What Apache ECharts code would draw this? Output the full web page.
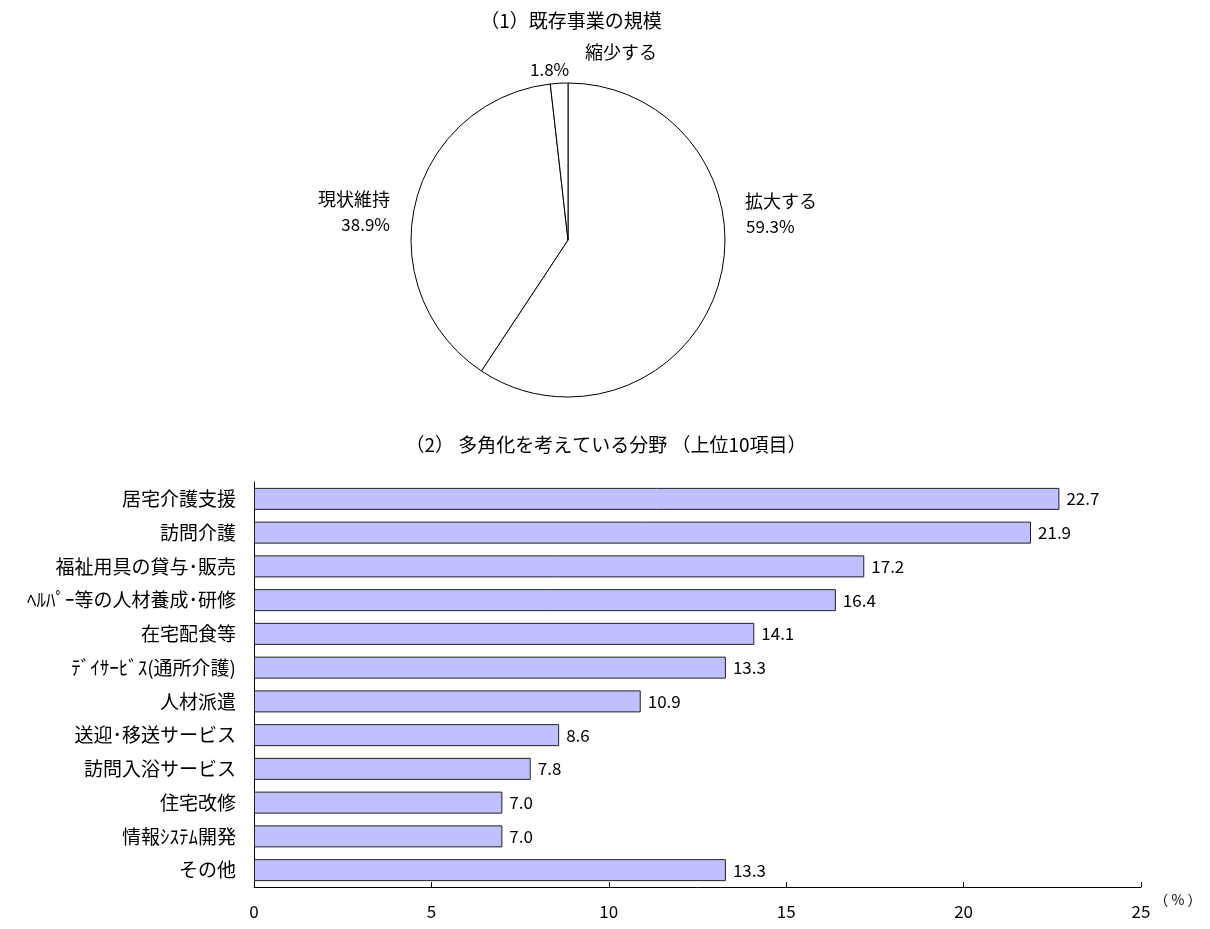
<!DOCTYPE html>
<html><head><meta charset="utf-8">
<script src="https://cdn.jsdelivr.net/npm/echarts@6/dist/echarts.min.js"></script>
<style>html,body{margin:0;padding:0;background:#fff}#c{width:1210px;height:929px}</style>
</head><body><div id="c"></div>
<script>
const pieNames = ['拡大する', '現状維持', '縮少する'];
const pieValues = [59.3, 38.9, 1.8];
const barCategories = ['居宅介護支援', '訪問介護', '福祉用具の貸与･販売', 'ﾍﾙﾊﾟｰ等の人材養成･研修', '在宅配食等', 'ﾃﾞｲｻｰﾋﾞｽ(通所介護)', '人材派遣', '送迎･移送サービス', '訪問入浴サービス', '住宅改修', '情報ｼｽﾃﾑ開発', 'その他'];
const barValues = [22.7, 21.9, 17.2, 16.4, 14.1, 13.3, 10.9, 8.6, 7.8, 7.0, 7.0, 13.3];
const xTicks = [0, 5, 10, 15, 20, 25];

const FONT = '"Noto Sans CJK JP", sans-serif';
const chart = echarts.init(document.getElementById('c'), null, {renderer: 'canvas'});
const labelPos = [
  {x: 745, y: 214, align: 'left'},
  {x: 390, y: 212, align: 'right'},
  {x: 530, y: 61, align: 'left'}
];
chart.setOption({
  animation: false,
  textStyle: {fontFamily: FONT, color: '#000'},
  title: [
    {text: '（1）既存事業の規模', left: 566, top: 6, textAlign: 'center',
     textStyle: {fontFamily: FONT, fontSize: 19, fontWeight: 'normal', color: '#000'}},
    {text: '（2） 多角化を考えている分野 （上位10項目）', left: 601, top: 430, textAlign: 'center',
     textStyle: {fontFamily: FONT, fontSize: 19, fontWeight: 'normal', color: '#000'}}
  ],
  grid: {left: 254, right: 69, top: 482, bottom: 42, containLabel: false},
  xAxis: {
    type: 'value', min: xTicks[0], max: xTicks[xTicks.length - 1], interval: 5,
    axisLine: {show: true, lineStyle: {color: '#000', width: 1}},
    axisTick: {show: true, inside: true, length: 5, lineStyle: {color: '#000'}},
    splitLine: {show: false},
    axisLabel: {margin: 16, fontSize: 17, color: '#000', fontFamily: FONT},
    name: '（ % ）', nameLocation: 'end', nameGap: 12,
    nameTextStyle: {fontSize: 14, color: '#000', verticalAlign: 'top', padding: [6, 0, 0, 0], fontFamily: FONT}
  },
  yAxis: {
    type: 'category', data: barCategories, inverse: true,
    axisLine: {show: true, lineStyle: {color: '#000', width: 1}},
    axisTick: {show: false},
    axisLabel: {margin: 18, fontSize: 19, color: '#000', fontFamily: FONT}
  },
  series: [
    {
      type: 'pie', center: [568, 240], radius: 157, startAngle: 90, clockwise: true,
      data: pieNames.map((n, i) => ({name: n, value: pieValues[i]})),
      itemStyle: {color: '#fff', borderColor: '#000', borderWidth: 1},
      emphasis: {disabled: true},
      labelLine: {show: false},
      label: {
        show: true, position: 'outside', color: '#000',
        formatter: p => p.dataIndex === 2
          ? '{n|' + p.name + '}\n{v|' + p.value.toFixed(1) + '%}'
          : '{t|' + p.name + '}\n{' + (p.dataIndex === 0 ? 'a' : 'b') + '|' + p.value.toFixed(1) + '%}',
        rich: {
          t: {fontSize: 18, fontFamily: FONT, lineHeight: 26, color: '#000'},
          a: {fontSize: 17, fontFamily: FONT, lineHeight: 26, color: '#000', padding: [0, 0, 0, 1]},
          b: {fontSize: 17, fontFamily: FONT, lineHeight: 26, color: '#000'},
          n: {fontSize: 18, fontFamily: FONT, padding: [0, 0, 0, 55], lineHeight: 18, color: '#000'},
          v: {fontSize: 17, fontFamily: FONT, lineHeight: 18, color: '#000'}
        }
      },
      labelLayout: p => ({x: labelPos[p.dataIndex].x, y: labelPos[p.dataIndex].y,
                          align: labelPos[p.dataIndex].align, verticalAlign: 'middle'})
    },
    {
      type: 'bar', data: barValues, barWidth: 22,
      itemStyle: {color: '#c0c0ff', borderColor: '#222', borderWidth: 1},
      emphasis: {disabled: true},
      label: {show: true, position: 'right', distance: 7, color: '#000', fontSize: 17, fontFamily: FONT,
              formatter: p => p.value.toFixed(1)}
    }
  ]
});
</script></body></html>
